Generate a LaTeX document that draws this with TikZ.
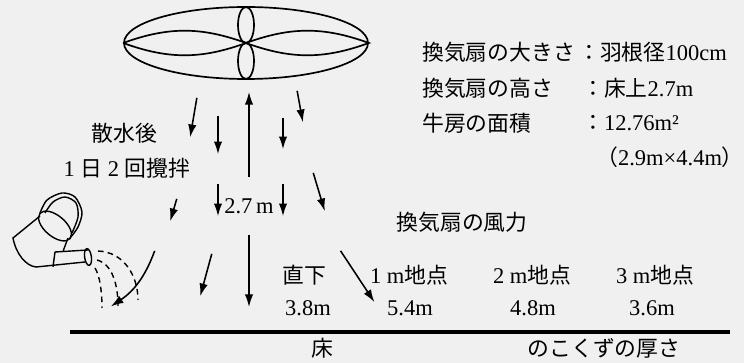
\documentclass[tikz,border=0pt]{standalone}
\usepackage{fontspec}
\setmainfont{Liberation Serif}
\newfontfamily\jp{Noto Sans CJK JP}[Scale=0.97]
\usepackage{tikz}
\usetikzlibrary{arrows.meta, positioning, shapes.geometric}

\begin{document}
\begin{tikzpicture}[
    every node/.style={font=\fontsize{16}{19}\selectfont, inner sep=1pt},
    invisible/.style={draw=none, fill=none, inner sep=0pt, minimum size=0pt},
    flow/.style={-{Latex[length=9pt, width=6pt]}, line width=1.1pt},
    spray/.style={dash pattern=on 4pt off 3pt, line width=1pt},
    info/.style={anchor=west},
    line width=1.2pt,
]
\fill[black!6] (0,0) rectangle (18.6,-9.075);
\useasboundingbox (0,0) rectangle (18.6,-9.075);

% fan seen from below
\node[draw, ellipse, minimum width=6.1cm, minimum height=1.8cm, inner sep=0pt] (fan) at (6.15,-1.075) {};
\draw (fan.west) to[bend left=20] (fan.center) to[bend left=20] (fan.west);
\draw (fan.center) to[bend left=20] (fan.east) to[bend left=20] (fan.center);
\draw (fan.center) ++(0,0.45) ellipse (0.2 and 0.45);
\draw (fan.center) ++(0,-0.45) ellipse (0.2 and 0.45);

% data
\node[info] (k1) at (10.5,-1.3) {\jp 換気扇の大きさ};
\node[info] (v1) at (14.4,-1.3) {{\jp ：羽根径}100cm};
\node[info] (k2) at (10.5,-2.2) {\jp 換気扇の高さ};
\node[info] (v2) at (14.5,-2.2) {{\jp ：床上}2.7m};
\node[info] (k3) at (10.5,-3.075) {\jp 牛房の面積};
\node[info] (v3) at (14.5,-3.075) {{\jp ：}12.76m²};
\node[info] (v4) at (14.85,-3.925) {{\jp （}2.9m×4.4m{\jp ）}};

\node (t1) at (3.11,-3.325) {\jp 散水後};
\node (t2) at (3.175,-4.2) {1 {\jp 日} 2 {\jp 回攪拌}};

\node (wind) at (11.55,-5.55) {\jp 換気扇の風力};
\node (p0) at (7.6,-6.875) {\jp 直下};
\node (p1) at (10.225,-6.875) {1 m{\jp 地点}};
\node (p2) at (13.3,-6.875) {2 m{\jp 地点}};
\node (p3) at (16.375,-6.875) {3 m{\jp 地点}};
\node (w0) at (7.7,-7.7) {3.8m};
\node (w1) at (10.25,-7.7) {5.4m};
\node (w2) at (13.325,-7.7) {4.8m};
\node (w3) at (16.3,-7.7) {3.6m};

% height of the fan
\node[minimum height=1.4cm] (dim) at (6.225,-5.15) {2.7\,m};
\coordinate (top) at (6.225,-2.3);
\coordinate (bot) at (6.225,-7.675);
\draw[flow] (dim) -- (top);
\draw[flow] (dim) -- (bot);

% air blown down
\node[invisible] (s1) at (4.925,-2.425) {};
\node[invisible] (e1) at (4.75,-3.45) {};
\node[invisible] (s2) at (5.45,-2.875) {};
\node[invisible] (e2) at (5.45,-3.875) {};
\node[invisible] (s3) at (7.075,-2.925) {};
\node[invisible] (e3) at (7.075,-3.75) {};
\node[invisible] (s4) at (7.425,-2.25) {};
\node[invisible] (e4) at (7.575,-3.075) {};
\node[invisible] (s5) at (4.425,-4.95) {};
\node[invisible] (e5) at (4.25,-5.55) {};
\node[invisible] (s6) at (5.45,-4.575) {};
\node[invisible] (e6) at (5.45,-5.425) {};
\node[invisible] (s7) at (7.075,-4.575) {};
\node[invisible] (e7) at (7.075,-5.425) {};
\node[invisible] (s8) at (7.825,-4.3) {};
\node[invisible] (e8) at (8.125,-5.3) {};
\node[invisible] (s9) at (5.3,-6.325) {};
\node[invisible] (e9) at (5.0,-7.425) {};
\node[invisible] (s10) at (8.5,-6.25) {};
\node[invisible] (e10) at (9.375,-7.575) {};
\node[invisible] (s11) at (3.875,-6.25) {};
\node[invisible] (e11) at (2.75,-7.675) {};

\draw[flow] (s1) -- (e1);
\draw[flow] (s2) -- (e2);
\draw[flow] (s3) -- (e3);
\draw[flow] (s4) -- (e4);
\draw[flow] (s5) -- (e5);
\draw[flow] (s6) -- (e6);
\draw[flow] (s7) -- (e7);
\draw[flow] (s8) -- (e8);
\draw[flow] (s9) -- (e9);
\draw[flow] (s10) -- (e10);
\draw[flow] (s11) to[bend left=18] (e11);

% watering can
\begin{scope}[line width=1pt]
\draw plot[smooth] coordinates {(1.0,-5.325) (1.175,-5.0) (1.55,-4.825) (1.875,-4.925) (2.05,-5.3) (1.95,-5.675) (1.75,-5.95)};
\draw plot[smooth] coordinates {(1.125,-5.325) (1.325,-5.05) (1.625,-4.925) (1.9,-5.075) (1.95,-5.425) (1.8,-5.825)};
\draw[rotate around={-40:(1.375,-5.65)}] (1.375,-5.65) ellipse (0.49 and 0.26);
\draw (1.0,-5.4) -- (0.325,-5.95) .. controls (0.4,-6.35) and (0.65,-6.65) .. (0.9,-6.675) -- (2.125,-6.55);
\draw (1.7,-5.95) -- (1.58,-6.27);
\draw (1.375,-6.3) -- (2.2,-6.25);
\draw (1.375,-6.3) -- (1.325,-6.67);
\draw[rotate around={8:(2.2,-6.425)}] (2.2,-6.425) ellipse (0.085 and 0.21);
\end{scope}

% water
\draw[spray] (2.45,-6.275) .. controls (3.1,-6.3) and (3.45,-6.9) .. (3.45,-7.5);
\draw[spray] (2.425,-6.5) .. controls (2.8,-6.6) and (2.95,-7.1) .. (2.95,-7.65);
\draw[spray] (2.375,-6.7) .. controls (2.5,-6.9) and (2.55,-7.3) .. (2.55,-7.7);

% floor
\coordinate (fl) at (1.75,-8.3);
\coordinate (fr) at (18.25,-8.3);
\draw[line width=3pt] (fl) -- (fr);
\node (floor) at (8.05,-8.7) {\jp 床};
\node (bed) at (15.1,-8.7) {\jp のこくずの厚さ};
\end{tikzpicture}
\end{document}
